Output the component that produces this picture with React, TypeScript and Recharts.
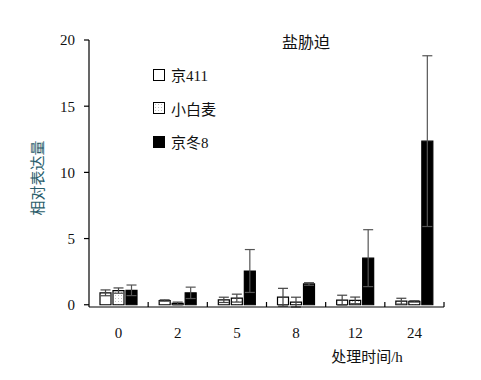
import { BarChart, Bar, XAxis, YAxis, ErrorBar } from "recharts"

const categories = ["0", "2", "5", "8", "12", "24"]
const jing411 = [0.9, 0.32, 0.37, 0.57, 0.35, 0.27]
const jing411Err = [0.22, 0.05, 0.2, 0.67, 0.37, 0.22]
const xiaobaimai = [1.07, 0.1, 0.5, 0.2, 0.33, 0.25]
const xiaobaimaiErr = [0.2, 0.1, 0.3, 0.37, 0.25, 0.05]
const jingdong8 = [1.09, 0.9, 2.55, 1.57, 3.52, 12.36]
const jingdong8Err = [0.4, 0.43, 1.62, 0.1, 2.15, 6.45]
const yTicks = [0, 5, 10, 15, 20]

const data = categories.map((c, i) => ({
  name: c,
  a: jing411[i],
  aErr: jing411Err[i],
  b: xiaobaimai[i],
  bErr: xiaobaimaiErr[i],
  c: jingdong8[i],
  cErr: jingdong8Err[i],
}))

const serif = '"Liberation Serif", "Times New Roman", serif'
const cjk = '"Liberation Serif", "Noto Sans CJK SC", serif'

const BAND = 355 / 6

// label at the centre, small tick mark at the right edge of each band
function XTick(props: any) {
  const { x, payload } = props
  const edge = x + BAND / 2
  return (
    <g>
      <line x1={edge} x2={edge} y1={307} y2={302} stroke="#000" strokeWidth={1.2} />
      <text x={x} y={338} textAnchor="middle" fontSize={15} fontFamily={serif} fill="#111">
        {payload.value}
      </text>
    </g>
  )
}

const legendItems = [
  { name: "京411", fill: "#fff" },
  { name: "小白麦", fill: "dots" },
  { name: "京冬8", fill: "#000" },
]

function LegendBox() {
  return (
    <div
      style={{
        position: "absolute",
        left: 153,
        top: 58,
        fontFamily: cjk,
        fontSize: 15,
        color: "#111",
      }}
    >
      {legendItems.map((it) => (
        <div key={it.name} style={{ display: "flex", alignItems: "center", height: 33.5 }}>
          <span
            style={{
              display: "inline-block",
              width: 10,
              height: 10,
              border: "1.2px solid #000",
              marginRight: 6,
              background:
                it.fill === "dots"
                  ? "radial-gradient(#bbb 0.6px, transparent 0.8px) 0 0 / 3px 3px, #fff"
                  : it.fill,
            }}
          ></span>
          <span>{it.name}</span>
        </div>
      ))}
    </div>
  )
}

export default function App() {
  return (
    <div style={{ position: "absolute", left: 0, top: 0, width: 481, height: 380, background: "#fff" }}>
      <BarChart
        width={481}
        height={380}
        data={data}
        margin={{ top: 40, right: 37, bottom: 43, left: 0 }}
        barSize={11}
        barGap={2}
      >
        <defs>
          <pattern id="dots" width="3" height="3" patternUnits="userSpaceOnUse">
            <rect width="3" height="3" fill="#fff" />
            <circle cx="1.5" cy="1.5" r="0.5" fill="#aaa" />
          </pattern>
        </defs>
        <XAxis
          dataKey="name"
          height={30}
          tickLine={false}
          axisLine={{ stroke: "#000", strokeWidth: 1.2 }}
          tick={<XTick />}
          interval={0}
        />
        <YAxis
          width={89}
          domain={[0, 20]}
          ticks={yTicks}
          tickSize={5}
          tickMargin={9}
          axisLine={{ stroke: "#000", strokeWidth: 1.2 }}
          tickLine={{ stroke: "#000", strokeWidth: 1.2 }}
          tick={{ fontSize: 15, fontFamily: serif, fill: "#111" }}
        />
        <Bar dataKey="a" fill="#fff" stroke="#000" strokeWidth={1.2} isAnimationActive={false}>
          <ErrorBar dataKey="aErr" width={5} stroke="#444" strokeWidth={1.2} direction="y" />
        </Bar>
        <Bar dataKey="b" fill="url(#dots)" stroke="#000" strokeWidth={1.2} isAnimationActive={false}>
          <ErrorBar dataKey="bErr" width={5} stroke="#444" strokeWidth={1.2} direction="y" />
        </Bar>
        <Bar dataKey="c" fill="#000" stroke="#000" strokeWidth={1.2} isAnimationActive={false}>
          <ErrorBar dataKey="cErr" width={5} stroke="#555" strokeWidth={1.2} direction="y" />
        </Bar>
        <text x={306} y={48} textAnchor="middle" fontSize={16} fontFamily={cjk} fill="#111">
          盐胁迫
        </text>
        <text x={367} y={362} textAnchor="middle" fontSize={15} fontFamily={cjk} fill="#111">
          处理时间/h
        </text>
        <text
          x={38}
          y={178}
          textAnchor="middle"
          dominantBaseline="central"
          fontSize={15}
          fontFamily={cjk}
          fill="#2a5d6a"
          transform="rotate(-90 38 178)"
        >
          相对表达量
        </text>
      </BarChart>
      <LegendBox />
    </div>
  )
}
